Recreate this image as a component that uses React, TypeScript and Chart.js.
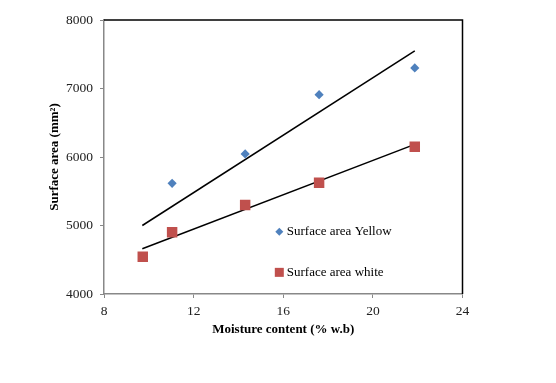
import React, { useEffect, useRef } from "react";
import { Chart, registerables } from "chart.js";

Chart.register(...registerables);

const yellowMoisture = [11.04, 14.3, 17.6, 21.87];
const yellowArea = [5615, 6045, 6910, 7300];
const whiteMoisture = [9.73, 11.04, 14.3, 17.6, 21.87];
const whiteArea = [4545, 4900, 5300, 5625, 6150];
const yellowTrendX = [9.71, 21.87];
const yellowTrendY = [5000, 7550];
const whiteTrendX = [9.71, 21.87];
const whiteTrendY = [4660, 6185];
const xTicks = [8, 12, 16, 20, 24];
const yTicks = [4000, 5000, 6000, 7000, 8000];
const legendLabels = ["Surface area Yellow", "Surface area white"];

const BLUE = "#4F81BD";
const RED = "#C0504D";
const FONT = "'Liberation Serif', 'Times New Roman', serif";

const framePlugin = {
  id: "frame",
  afterDatasetsDraw(chart: any) {
    const { ctx, chartArea } = chart;
    ctx.save();
    ctx.strokeStyle = "#000";
    ctx.lineWidth = 1.5;
    ctx.beginPath();
    ctx.moveTo(chartArea.left, chartArea.top);
    ctx.lineTo(chartArea.right, chartArea.top);
    ctx.lineTo(chartArea.right, chartArea.bottom);
    ctx.stroke();
    ctx.restore();
  },
};

const legendPlugin = {
  id: "insideLegend",
  afterDraw(chart: any) {
    const { ctx, chartArea } = chart;
    const w = chartArea.right - chartArea.left;
    const h = chartArea.bottom - chartArea.top;
    const mx = chartArea.left + w * 0.489;
    const y1 = chartArea.top + h * 0.773;
    const y2 = chartArea.top + h * 0.921;
    ctx.save();
    ctx.font = `13px ${FONT}`;
    ctx.textBaseline = "middle";
    ctx.textAlign = "left";
    ctx.fillStyle = BLUE;
    ctx.beginPath();
    ctx.moveTo(mx - 4, y1);
    ctx.lineTo(mx, y1 - 4);
    ctx.lineTo(mx + 4, y1);
    ctx.lineTo(mx, y1 + 4);
    ctx.closePath();
    ctx.fill();
    ctx.fillStyle = "#000";
    ctx.fillText(legendLabels[0], mx + 7.5, y1);
    ctx.fillStyle = RED;
    ctx.fillRect(mx - 4.5, y2 - 4.5, 9, 9);
    ctx.fillStyle = "#000";
    ctx.fillText(legendLabels[1], mx + 7.5, y2);
    ctx.restore();
  },
};

export default function App() {
  const ref = useRef<HTMLCanvasElement | null>(null);
  useEffect(() => {
    if (!ref.current) return;
    const chart = new Chart(ref.current, {
      type: "scatter",
      data: {
        datasets: [
          {
            label: legendLabels[0],
            data: yellowMoisture.map((x, i) => ({ x, y: yellowArea[i] })),
            pointStyle: "rectRot",
            pointRadius: 4.6,
            backgroundColor: BLUE,
            borderColor: BLUE,
            borderWidth: 0,
          },
          {
            label: legendLabels[1],
            data: whiteMoisture.map((x, i) => ({ x, y: whiteArea[i] })),
            pointStyle: "rect",
            pointRadius: 7.4,
            backgroundColor: RED,
            borderColor: RED,
            borderWidth: 0,
          },
          {
            label: "trend yellow",
            type: "line",
            data: yellowTrendX.map((x, i) => ({ x, y: yellowTrendY[i] })),
            showLine: true,
            pointRadius: 0,
            borderColor: "#000",
            borderWidth: 1.5,
            fill: false,
          },
          {
            label: "trend white",
            type: "line",
            data: whiteTrendX.map((x, i) => ({ x, y: whiteTrendY[i] })),
            showLine: true,
            pointRadius: 0,
            borderColor: "#000",
            borderWidth: 1.5,
            fill: false,
          },
        ],
      },
      options: {
        animation: false,
        responsive: false,
        maintainAspectRatio: false,
        layout: { padding: { left: 0, top: 20, right: 93.5, bottom: 0 } },
        plugins: {
          legend: { display: false },
          tooltip: { enabled: false },
        },
        scales: {
          x: {
            type: "linear",
            min: 8,
            max: 24,
            afterBuildTicks: (s: any) => {
              s.ticks = xTicks.map((v) => ({ value: v }));
            },
            afterFit: (s: any) => {
              s.height = 89;
            },
            ticks: {
              color: "#222",
              font: { family: FONT, size: 13.5 },
              padding: 5,
              maxRotation: 0,
              callback: (v: any) => String(v),
            },
            grid: {
              drawOnChartArea: false,
              drawTicks: true,
              tickLength: 4,
              color: "#888",
            },
            border: { color: "#888", width: 1.5 },
            title: {
              display: true,
              text: "Moisture content (% w.b)",
              color: "#000",
              font: { family: FONT, size: 13, weight: "bold" },
              padding: { top: 0, bottom: 46 },
            },
          },
          y: {
            type: "linear",
            min: 4000,
            max: 8000,
            afterBuildTicks: (s: any) => {
              s.ticks = yTicks.map((v) => ({ value: v }));
            },
            afterFit: (s: any) => {
              s.width = 104;
            },
            ticks: {
              color: "#222",
              font: { family: FONT, size: 13.5 },
              padding: 7,
              callback: (v: any) => String(v),
            },
            grid: {
              drawOnChartArea: false,
              drawTicks: true,
              tickLength: 4,
              color: "#888",
            },
            border: { color: "#888", width: 1.5 },
            title: {
              display: true,
              text: "Surface area (mm²)",
              color: "#000",
              font: { family: FONT, size: 13, weight: "bold" },
              padding: { top: 47, bottom: 0 },
            },
          },
        },
      },
      plugins: [framePlugin, legendPlugin],
    } as any);
    return () => chart.destroy();
  }, []);
  return (
    <div style={{ position: "absolute", left: 0, top: 0, width: 556, height: 383, background: "#fff" }}>
      <canvas ref={ref} width={556} height={383} style={{ width: 556, height: 383, display: "block" }} />
    </div>
  );
}
